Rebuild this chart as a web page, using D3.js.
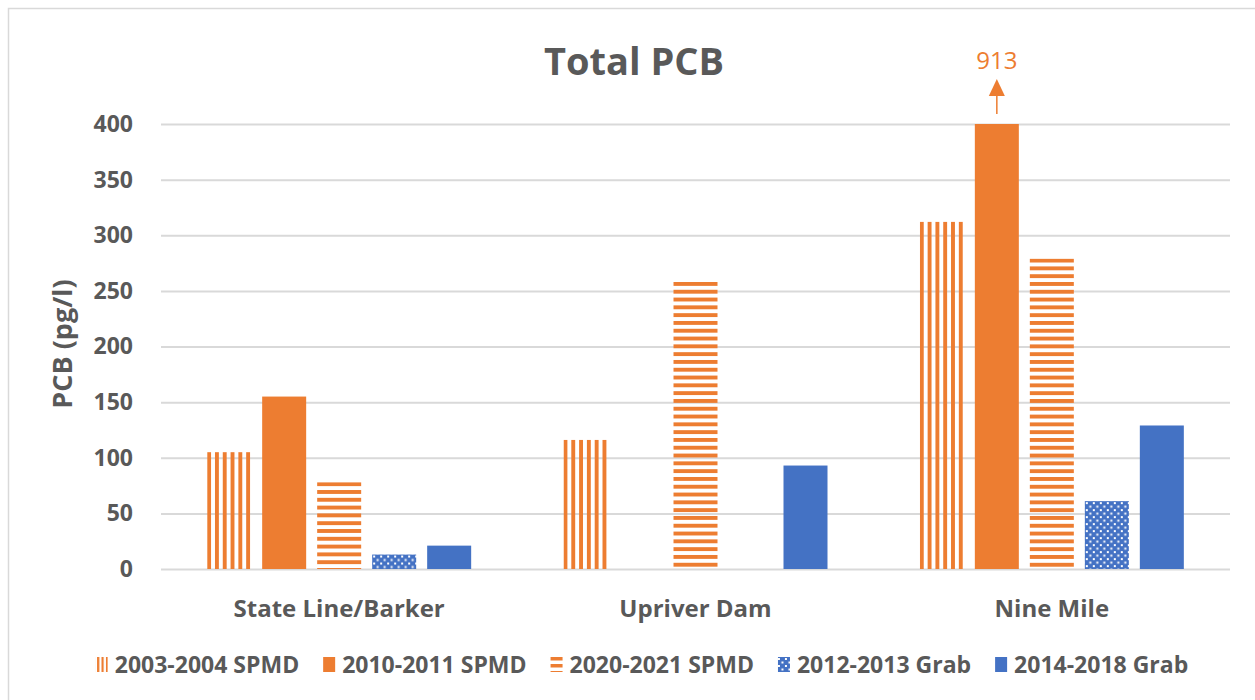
<!DOCTYPE html>
<html>
<head>
<meta charset="utf-8">
<script src="https://cdn.jsdelivr.net/npm/d3@7"></script>
<style>
  body { margin: 0; background: #fff; }
  text { font-family: "Open Sans", sans-serif; }
</style>
</head>
<body>
<div id="chart"></div>
<script>
// data
let sites = ['State Line/Barker', 'Upriver Dam', 'Nine Mile'];
let series = ['2003-2004 SPMD', '2010-2011 SPMD', '2020-2021 SPMD', '2012-2013 Grab', '2014-2018 Grab'];
// null = no sample
let spmd0304 = [105, 116, 312];
let spmd1011 = [155, null, 913];
let spmd2021 = [78, 258, 279];
let grab1213 = [13, null, 61];
let grab1418 = [21, 93, 129];
let yTicks = [0, 50, 100, 150, 200, 250, 300, 350, 400];
let yMax = 400;

let values = [spmd0304, spmd1011, spmd2021, grab1213, grab1418];

// series look
let fillColor = ['#ED7D31', '#ED7D31', '#ED7D31', '#4472C4', '#4472C4'];
let fillKind = ['vstripe', 'solid', 'hstripe', 'dots', 'solid'];
let txt = '#595959';

let W = 1255, H = 700;
let svg = d3.select('#chart').append('svg')
  .attr('width', W).attr('height', H);

let defs = svg.append('defs');

// chart frame
svg.append('rect')
  .attr('x', 8.5).attr('y', 8.5)
  .attr('width', 1262).attr('height', 720)
  .attr('fill', 'white')
  .attr('stroke', '#d9d9d9').attr('stroke-width', 1.5);

let pLeft = 161, pRight = 1230, pTop = 124, pBottom = 569;

let x0 = d3.scaleBand().domain(sites).range([pLeft, pRight]);
let groupW = 275;
let x1 = d3.scaleBand().domain(series).range([0, groupW])
  .paddingInner(0.2).paddingOuter(0.1);
let y = d3.scaleLinear().domain([0, yMax]).range([pBottom, pTop]);

// gridlines + tick labels
let yAxis = d3.axisLeft(y).tickValues(yTicks).tickSize(-(pRight - pLeft)).tickPadding(28);
let gy = svg.append('g')
  .attr('transform', 'translate(' + pLeft + ',0)')
  .call(yAxis);
gy.select('.domain').remove();
gy.selectAll('.tick line').attr('stroke', '#d9d9d9').attr('stroke-width', 2);
gy.selectAll('.tick text')
  .attr('fill', txt)
  .attr('font-size', 23)
  .attr('font-weight', 700)
  .attr('font-family', '"Open Sans", sans-serif');

// patterns, one per bar so stripes start at the bar edge
function patternFor(kind, color, id, bx, by, period) {
  let p = defs.append('pattern').attr('id', id)
    .attr('patternUnits', 'userSpaceOnUse')
    .attr('x', bx).attr('y', by);
  if (kind == 'vstripe') {
    p.attr('width', period).attr('height', 10);
    p.append('rect').attr('x', 0).attr('y', 0).attr('width', period / 2).attr('height', 10).attr('fill', color);
  } else if (kind == 'hstripe') {
    p.attr('width', 10).attr('height', period);
    p.append('rect').attr('x', 0).attr('y', 0).attr('width', 10).attr('height', period / 2).attr('fill', color);
  } else if (kind == 'dots') {
    p.attr('width', 7).attr('height', 7);
    p.append('rect').attr('width', 7).attr('height', 7).attr('fill', color);
    p.append('rect').attr('x', 1).attr('y', 1).attr('width', 2).attr('height', 2).attr('fill', 'white');
    p.append('rect').attr('x', 4.5).attr('y', 4.5).attr('width', 2).attr('height', 2).attr('fill', 'white');
  }
  return 'url(#' + id + ')';
}

let bars = [];
series.forEach(function(s, si) {
  sites.forEach(function(site, ci) {
    let v = values[si][ci];
    if (v == null) return;
    bars.push({s: s, si: si, site: site, v: v});
  });
});

function barX(d) {
  return x0(d.site) + (x0.bandwidth() - groupW) / 2 + x1(d.s);
}
function barY(d) { return y(Math.min(d.v, yMax)); }

svg.append('g').selectAll('rect').data(bars).enter()
  .append('rect')
    .attr('x', barX)
    .attr('y', barY)
    .attr('width', x1.bandwidth())
    .attr('height', function(d) { return pBottom - barY(d); })
    .attr('fill', function(d, i) {
      if (fillKind[d.si] == 'solid') return fillColor[d.si];
      return patternFor(fillKind[d.si], fillColor[d.si], 'pat' + i, barX(d), barY(d), 7.8);
    });

// off-scale bar: arrow + value
bars.filter(function(d) { return d.v > yMax; }).forEach(function(d) {
  let cx = barX(d) + x1.bandwidth() / 2;
  let ty = y(yMax);
  svg.append('line')
    .attr('x1', cx).attr('x2', cx)
    .attr('y1', ty - 10).attr('y2', ty - 30)
    .attr('stroke', '#ED7D31').attr('stroke-width', 1.5);
  svg.append('path')
    .attr('d', 'M' + (cx - 8) + ',' + (ty - 28) + 'L' + cx + ',' + (ty - 45) + 'L' + (cx + 8) + ',' + (ty - 28) + 'Z')
    .attr('fill', '#ED7D31');
  svg.append('text')
    .attr('x', cx).attr('y', ty - 55)
    .attr('text-anchor', 'middle')
    .attr('font-size', 24)
    .attr('fill', '#ED7D31')
    .text(d.v);
});

// category labels
svg.append('g').selectAll('text').data(sites).enter()
  .append('text')
    .attr('x', function(d) { return x0(d) + x0.bandwidth() / 2; })
    .attr('y', 617)
    .attr('text-anchor', 'middle')
    .attr('font-size', 24)
    .attr('font-weight', 700)
    .attr('fill', txt)
    .text(function(d) { return d; });

// title
svg.append('text')
  .attr('x', 634).attr('y', 75)
  .attr('text-anchor', 'middle')
  .attr('font-size', 38)
  .attr('font-weight', 700)
  .attr('fill', txt)
  .text('Total PCB');

// y axis title
svg.append('text')
  .attr('transform', 'translate(72,344) rotate(-90)')
  .attr('text-anchor', 'middle')
  .attr('font-size', 27)
  .attr('font-weight', 700)
  .attr('fill', txt)
  .text('PCB (pg/l)');

// legend
let lg = svg.append('g');
let lx = 0;
let gap = 22;
series.forEach(function(s, si) {
  let item = lg.append('g').attr('transform', 'translate(' + lx + ',0)');
  let sw = fillKind[si] == 'solid' ? fillColor[si]
    : patternFor(fillKind[si], fillColor[si], 'leg' + si, lx + 2, 657, fillKind[si] == 'vstripe' ? 4.4 : 7);
  item.append('rect')
    .attr('x', 2).attr('y', 657)
    .attr('width', 12).attr('height', 15)
    .attr('fill', sw);
  let t = item.append('text')
    .attr('x', 21).attr('y', 673)
    .attr('font-size', 23)
    .attr('font-weight', 700)
    .attr('fill', txt)
    .text(s);
  lx += 21 + t.node().getComputedTextLength() + gap;
});
lx -= gap;
// patterns live in user space, so move them with the legend group
let shift = 641 - lx / 2;
lg.attr('transform', 'translate(' + shift + ',0)');
defs.selectAll('pattern').filter(function() { return this.id.indexOf('leg') == 0; })
  .each(function() {
    let p = d3.select(this);
    p.attr('x', +p.attr('x') + shift);
  });
</script>
</body>
</html>
